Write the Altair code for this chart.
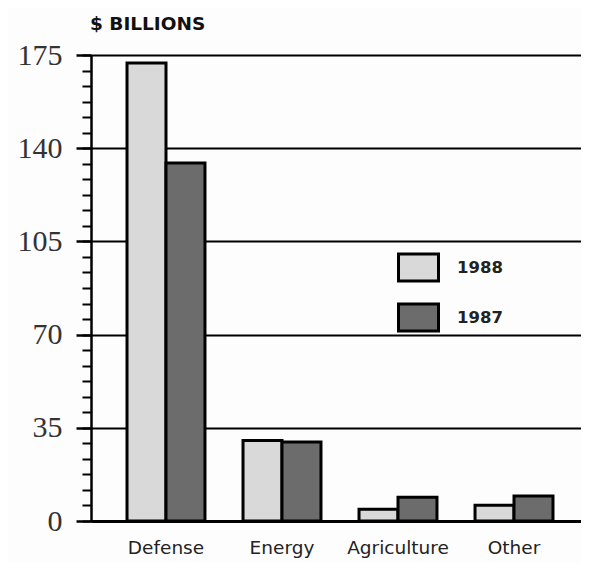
import altair as alt
import pandas as pd

categories = ["Defense", "Energy", "Agriculture", "Other"]
years = ["1988", "1987"]
values_1988 = [172.0, 30.2, 4.4, 5.9]
values_1987 = [134.4, 29.7, 8.9, 9.4]
major_ticks = [0, 35, 70, 105, 140, 175]
minor_ticks = [35 / 6 * k for k in range(31)]
colors = ["#d9d9d9", "#6c6c6c"]

rows = []
for c, v88, v87 in zip(categories, values_1988, values_1987):
    rows.append({"category": c, "year": "1988", "value": v88})
    rows.append({"category": c, "year": "1987", "value": v87})
df = pd.DataFrame(rows)

x_enc = alt.X(
    "category:N", sort=categories,
    scale=alt.Scale(paddingInner=0.328, paddingOuter=0.276, align=0.5625),
    axis=alt.Axis(title=None, labelAngle=0, ticks=False, domainColor="black",
                  domainWidth=3, labelFont="DejaVu Sans", labelFontSize=18.5,
                  labelColor="#222", labelPadding=17),
)
xo_enc = alt.XOffset("year:N", sort=years, scale=alt.Scale(paddingInner=0, paddingOuter=0))
y_scale = alt.Scale(domain=[0, 175], nice=False)

bars = alt.Chart(df).mark_bar(stroke="black", strokeWidth=3).encode(
    x=x_enc,
    xOffset=xo_enc,
    y=alt.Y("value:Q", scale=y_scale,
            axis=alt.Axis(values=major_ticks, title=None, orient="left", grid=True,
                          gridColor="black", gridWidth=2, gridOpacity=1,
                          tickSize=15, tickWidth=2.5, tickColor="black",
                          domainColor="black", domainWidth=2.5,
                          labelFont="Liberation Serif", labelFontSize=30,
                          labelColor="#333", labelPadding=14)),
    color=alt.Color("year:N", sort=years,
                    scale=alt.Scale(domain=years, range=colors),
                    legend=alt.Legend(title=None, orient="none", legendX=306, legendY=191,
                                      symbolType="M-1,-0.675H1V0.675H-1Z", symbolSize=1600,
                                      symbolStrokeColor="black", symbolStrokeWidth=3,
                                      symbolOpacity=1, rowPadding=9, labelOffset=17,
                                      labelFont="DejaVu Sans", labelFontSize=16.5,
                                      labelFontWeight="bold", labelColor="#222")),
)

minor = alt.Chart(df).mark_bar(opacity=0).encode(
    x=x_enc,
    xOffset=xo_enc,
    y=alt.Y("value:Q", scale=y_scale,
            axis=alt.Axis(values=minor_ticks, title=None, orient="left", grid=False,
                          labels=False, domain=False, tickSize=9, tickWidth=2,
                          tickColor="black")),
)

chart = alt.layer(bars, minor).resolve_axis(y="independent").properties(
    width=490, height=466,
    autosize=alt.AutoSizeParams(type="none"),
    padding={"left": 83, "top": 47, "right": 0, "bottom": 42},
    background="#fdfdfd",
    title=alt.TitleParams("$ BILLIONS", anchor="start", dx=73,
                          font="DejaVu Sans", fontSize=18.5, fontWeight="bold",
                          color="#111", offset=7),
).configure_view(stroke="#555", strokeWidth=1)

chart.save("out.html", embed_options={"renderer": "svg", "actions": False})
